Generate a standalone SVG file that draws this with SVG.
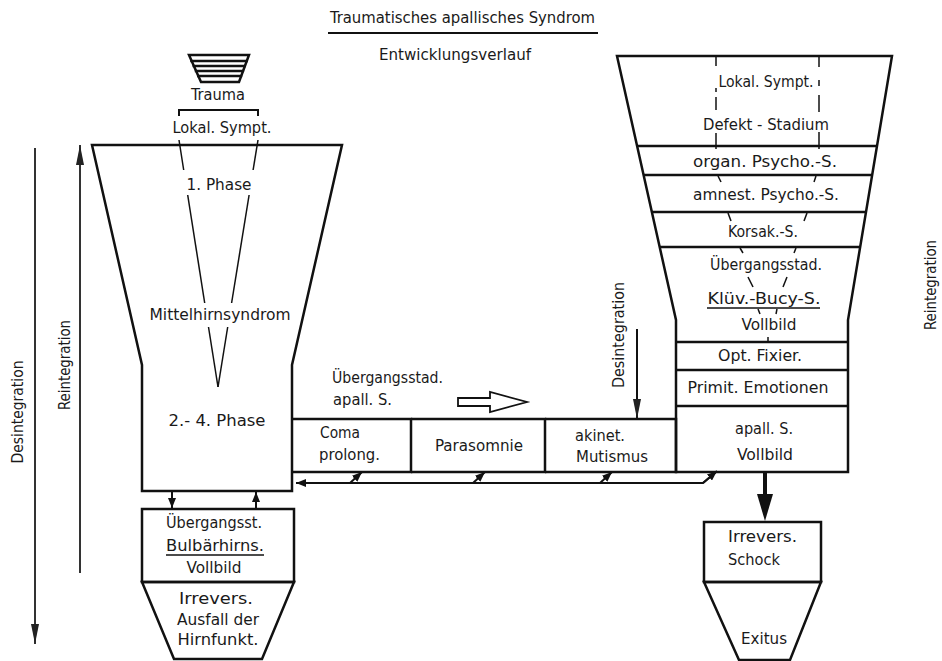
<svg xmlns="http://www.w3.org/2000/svg" width="942" height="661" viewBox="0 0 942 661">
<defs>
<style>
text{font-family:"DejaVu Sans Condensed","Liberation Sans Narrow","Liberation Sans",sans-serif;font-size:16.5px;fill:#1a1a1a}
.m{text-anchor:middle}
.o{fill:none;stroke:#111;stroke-width:2.5;stroke-linejoin:miter}
.t{fill:none;stroke:#111;stroke-width:1.5}
.c{fill:none;stroke:#111;stroke-width:2}
.ax{fill:none;stroke:#333;stroke-width:2}
</style>
<marker id="axh" viewBox="0 0 20 8" refX="20" refY="4" markerWidth="20" markerHeight="8" markerUnits="userSpaceOnUse" orient="auto"><path d="M0,0 L20,4 L0,8 z" fill="#222"/></marker>
<marker id="sh" viewBox="0 0 10 8" refX="10" refY="4" markerWidth="10" markerHeight="8" markerUnits="userSpaceOnUse" orient="auto"><path d="M0,0 L10,4 L0,8 z" fill="#111"/></marker>
</defs>
<rect width="942" height="661" fill="#fff"/>

<g id="title">
<text class="m" x="462.5" y="23" textLength="265" lengthAdjust="spacingAndGlyphs">Traumatisches apallisches Syndrom</text>
<line x1="328" y1="33" x2="598" y2="33" class="c"/>
<text class="m" x="455" y="60" textLength="152" lengthAdjust="spacingAndGlyphs">Entwicklungsverlauf</text>
</g>

<g id="trauma">
<polygon points="189,55 249,55 239,82 201,82" class="o"/>
<g stroke="#111" stroke-width="2.5">
<line x1="190.3" y1="61" x2="247.9" y2="61"/>
<line x1="192.6" y1="66" x2="245.9" y2="66"/>
<line x1="194.8" y1="71" x2="244.1" y2="71"/>
<line x1="197" y1="76" x2="242.2" y2="76"/>
</g>
<text class="m" x="218" y="100" textLength="54" lengthAdjust="spacingAndGlyphs">Trauma</text>
<polyline points="179,116 179,110 258,110 258,116" class="c"/>
<text class="m" x="222" y="133" textLength="99" lengthAdjust="spacingAndGlyphs">Lokal. Sympt.</text>
</g>

<g id="mittelhirn">
<polygon points="92,145 342,145 292,365 292,491 142,491 142,365" class="o"/>
<g class="t">
<line x1="179" y1="140" x2="183.7" y2="170"/>
<line x1="187.7" y1="195" x2="204.7" y2="303"/>
<line x1="208.5" y1="327" x2="218" y2="387"/>
<line x1="258" y1="140" x2="253.1" y2="170"/>
<line x1="249.1" y1="195" x2="231.6" y2="303"/>
<line x1="227.7" y1="327" x2="218" y2="387"/>
</g>
<text class="m" x="219" y="190" textLength="65" lengthAdjust="spacingAndGlyphs">1. Phase</text>
<text class="m" x="220" y="320" textLength="141" lengthAdjust="spacingAndGlyphs">Mittelhirnsyndrom</text>
<text class="m" x="217" y="426" textLength="97" lengthAdjust="spacingAndGlyphs">2.- 4. Phase</text>
</g>

<g id="bulbaerhirn">
<rect x="142" y="509" width="152" height="73" class="o"/>
<text class="m" x="214" y="528" textLength="96" lengthAdjust="spacingAndGlyphs">Übergangsst.</text>
<text class="m" x="215" y="551" textLength="98" lengthAdjust="spacingAndGlyphs">Bulbärhirns.</text>
<line x1="166" y1="555" x2="264" y2="555" stroke="#111" stroke-width="1.3"/>
<text class="m" x="214" y="573" textLength="55" lengthAdjust="spacingAndGlyphs">Vollbild</text>
</g>

<g id="ausfall">
<polygon points="142,582 294,582 262,659 174,659" class="o"/>
<text class="m" x="216" y="604" textLength="74" lengthAdjust="spacingAndGlyphs">Irrevers.</text>
<text class="m" x="218" y="625" textLength="82" lengthAdjust="spacingAndGlyphs">Ausfall der</text>
<text class="m" x="218" y="645" textLength="81" lengthAdjust="spacingAndGlyphs">Hirnfunkt.</text>
</g>

<g id="uebergang-apall">
<text x="332" y="383" textLength="111" lengthAdjust="spacingAndGlyphs">Übergangsstad.</text>
<text x="333" y="405" textLength="59" lengthAdjust="spacingAndGlyphs">apall. S.</text>
<polygon points="458,398 490,398 490,392 527,402 490,412 490,406 458,406" fill="none" stroke="#111" stroke-width="1.8"/>
</g>

<g id="coma">
<polyline points="292,419 411,419 411,472 292,472" class="o"/>
<text x="320" y="438" textLength="40" lengthAdjust="spacingAndGlyphs">Coma</text>
<text x="319" y="460" textLength="61" lengthAdjust="spacingAndGlyphs">prolong.</text>
</g>
<g id="parasomnie">
<polyline points="411,419 545,419 545,472 411,472" class="o"/>
<text class="m" x="479" y="451" textLength="88" lengthAdjust="spacingAndGlyphs">Parasomnie</text>
</g>
<g id="mutismus">
<polyline points="545,419 676,419 676,472 545,472" class="o"/>
<text x="575" y="441" textLength="50" lengthAdjust="spacingAndGlyphs">akinet.</text>
<text x="576" y="462" textLength="72" lengthAdjust="spacingAndGlyphs">Mutismus</text>
</g>

<g id="rueckbildung">
<polygon points="617,56 892,56 848,320 848,472 676,472 676,320" class="o"/>
<g class="o">
<line x1="637.1" y1="146" x2="877" y2="146"/>
<line x1="643.6" y1="175" x2="872.2" y2="175"/>
<line x1="651.9" y1="212" x2="866" y2="212"/>
<line x1="659.7" y1="247" x2="860.2" y2="247"/>
<line x1="676" y1="342" x2="848" y2="342"/>
<line x1="676" y1="370" x2="848" y2="370"/>
<line x1="676" y1="406" x2="848" y2="406"/>
</g>
<g class="t">
<line x1="716" y1="57" x2="716" y2="66"/>
<line x1="716" y1="88" x2="716" y2="92"/>
<line x1="716" y1="97" x2="716" y2="110"/>
<line x1="716" y1="133" x2="716" y2="149"/>
<line x1="819" y1="57" x2="819" y2="67"/>
<line x1="819" y1="80" x2="819" y2="86"/>
<line x1="819" y1="95" x2="819" y2="112"/>
<line x1="819" y1="132" x2="819" y2="149"/>
<line x1="718" y1="176" x2="721" y2="182"/>
<line x1="816" y1="176" x2="814" y2="182"/>
<line x1="728" y1="213" x2="731" y2="221"/>
<line x1="807" y1="213" x2="804" y2="221"/>
<line x1="740" y1="248" x2="743" y2="253"/>
<line x1="796" y1="248" x2="794" y2="253"/>
<line x1="748" y1="277" x2="753" y2="287"/>
<line x1="787" y1="277" x2="783" y2="287"/>
<line x1="758" y1="309" x2="760" y2="314"/>
<line x1="777" y1="309" x2="776" y2="314"/>
<line x1="768" y1="337" x2="768" y2="342"/>
</g>
<text class="m" x="766" y="87" textLength="95" lengthAdjust="spacingAndGlyphs">Lokal. Sympt.</text>
<text class="m" x="766" y="130" textLength="126" lengthAdjust="spacingAndGlyphs">Defekt - Stadium</text>
<text class="m" x="765" y="167" textLength="144" lengthAdjust="spacingAndGlyphs">organ. Psycho.-S.</text>
<text class="m" x="766" y="200" textLength="146" lengthAdjust="spacingAndGlyphs">amnest. Psycho.-S.</text>
<text class="m" x="763" y="237" textLength="70" lengthAdjust="spacingAndGlyphs">Korsak.-S.</text>
<text class="m" x="766" y="270" textLength="112" lengthAdjust="spacingAndGlyphs">Übergangsstad.</text>
<text class="m" x="764" y="304" textLength="113" lengthAdjust="spacingAndGlyphs">Klüv.-Bucy-S.</text>
<line x1="707" y1="308" x2="820" y2="308" stroke="#111" stroke-width="1.3"/>
<text class="m" x="769" y="330" textLength="55" lengthAdjust="spacingAndGlyphs">Vollbild</text>
<text class="m" x="760" y="361" textLength="84" lengthAdjust="spacingAndGlyphs">Opt. Fixier.</text>
<text class="m" x="758" y="393" textLength="141" lengthAdjust="spacingAndGlyphs">Primit. Emotionen</text>
<text class="m" x="764" y="434" textLength="58" lengthAdjust="spacingAndGlyphs">apall. S.</text>
<text class="m" x="765" y="460" textLength="56" lengthAdjust="spacingAndGlyphs">Vollbild</text>
</g>

<g id="schock">
<rect x="704" y="522" width="117" height="60" class="o"/>
<text x="728" y="542" textLength="69" lengthAdjust="spacingAndGlyphs">Irrevers.</text>
<text x="728" y="565" textLength="52" lengthAdjust="spacingAndGlyphs">Schock</text>
</g>
<g id="exitus">
<polygon points="704,582 821,582 790,660 739,660" class="o"/>
<text class="m" x="764" y="644" textLength="46" lengthAdjust="spacingAndGlyphs">Exitus</text>
</g>

<g id="axes">
<line x1="35" y1="148" x2="35" y2="644" class="ax" marker-end="url(#axh)"/>
<text class="m" transform="translate(23,412) rotate(-90)" x="0" y="0" textLength="103" lengthAdjust="spacingAndGlyphs">Desintegration</text>
<line x1="80" y1="573" x2="80" y2="145" class="ax" marker-end="url(#axh)"/>
<text class="m" transform="translate(70,365) rotate(-90)" x="0" y="0" textLength="90" lengthAdjust="spacingAndGlyphs">Reintegration</text>
<line x1="637" y1="329" x2="637" y2="419" class="c" marker-end="url(#axh)"/>
<text class="m" transform="translate(624,335) rotate(-90)" x="0" y="0" textLength="106" lengthAdjust="spacingAndGlyphs">Desintegration</text>
<text class="m" transform="translate(936,285) rotate(-90)" x="0" y="0" textLength="90" lengthAdjust="spacingAndGlyphs">Reintegration</text>
</g>

<g id="connectors">
<line x1="172" y1="491" x2="172" y2="508" class="c" marker-end="url(#sh)"/>
<line x1="256" y1="509" x2="256" y2="492" class="c" marker-end="url(#sh)"/>
<polyline points="716,472 703,483 296,483" class="c" marker-end="url(#sh)"/>
<line x1="703" y1="483" x2="717" y2="471" class="c" marker-end="url(#sh)"/>
<line x1="350" y1="483" x2="362" y2="472" class="c" marker-end="url(#sh)"/>
<line x1="473" y1="483" x2="485" y2="472" class="c" marker-end="url(#sh)"/>
<line x1="600" y1="483" x2="612" y2="472" class="c" marker-end="url(#sh)"/>
<line x1="765" y1="472" x2="765" y2="497" stroke="#111" stroke-width="4"/>
<polygon points="757,494 773,494 765,521" fill="#111"/>
</g>
</svg>
